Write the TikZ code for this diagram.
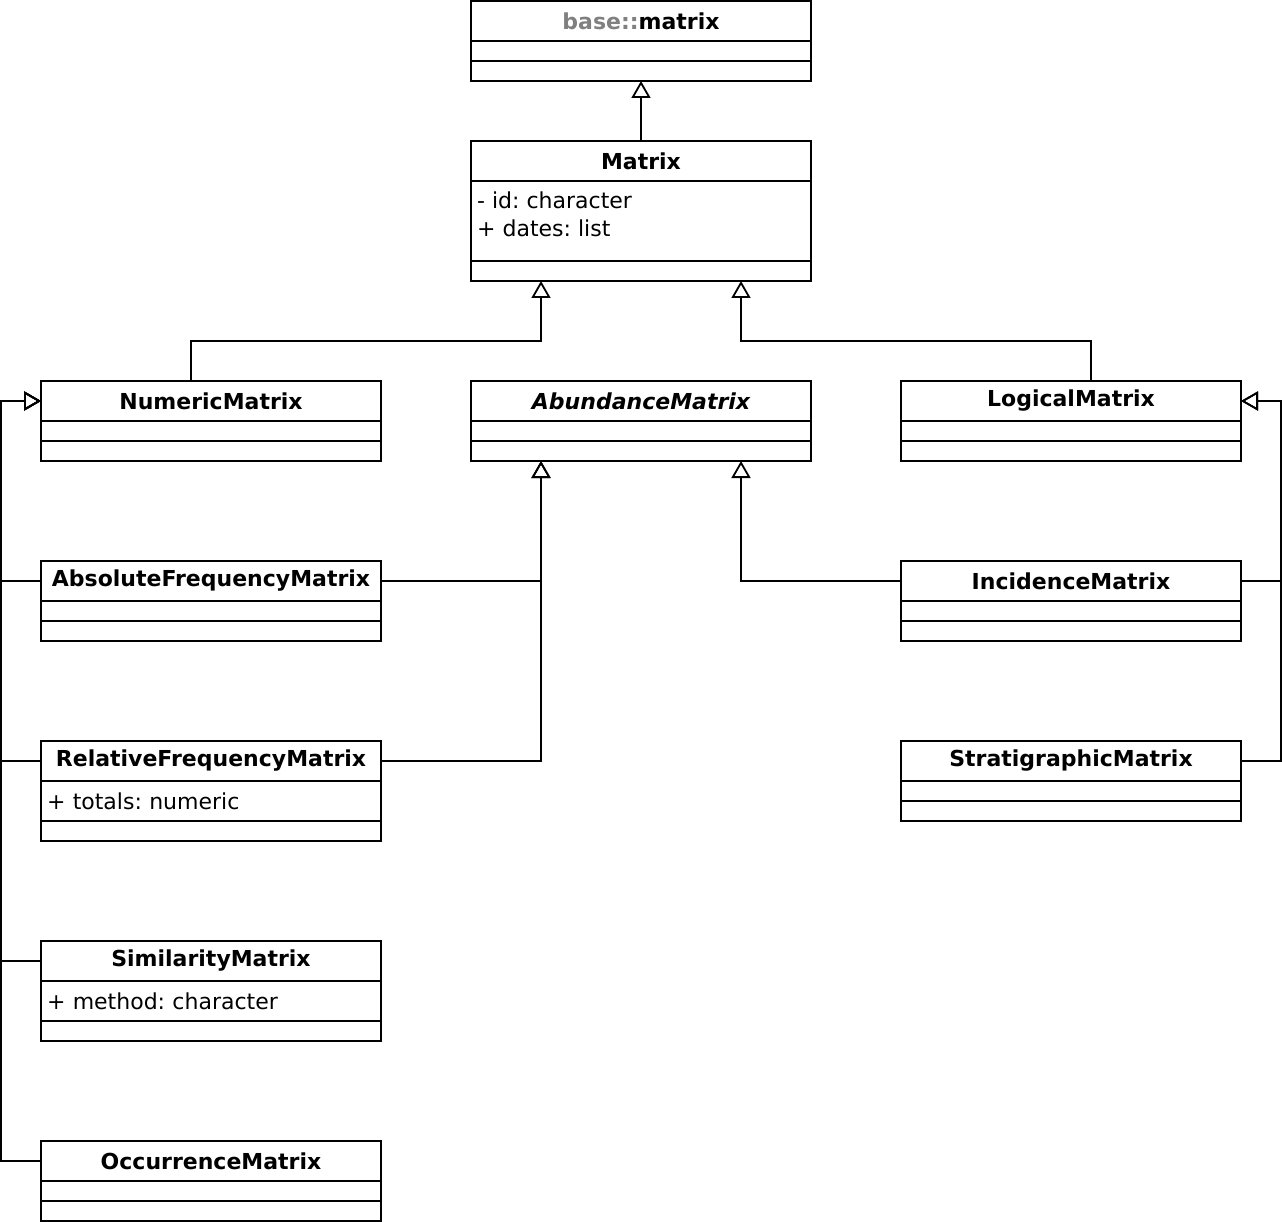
\documentclass[tikz,border=0pt]{standalone}
\usepackage{fontspec}
\setmainfont{DejaVu Sans}
\usetikzlibrary{positioning,calc,arrows.meta}

\definecolor{basegray}{HTML}{808080}
\frenchspacing

\tikzset{
	classhead/.style={draw, rectangle, line width=1.3pt, anchor=north west,
		minimum width=\boxw pt, minimum height=40pt, inner sep=0pt, outer sep=0pt,
		font=\fontsize{22}{28}\selectfont\bfseries},
	compart/.style={draw, rectangle, line width=1.3pt,
		minimum width=\boxw pt, minimum height=20pt, inner sep=0pt, outer sep=0pt},
	attrbox/.style={compart, minimum height=40pt, align=left,
		text width=\boxw pt - 12pt, inner xsep=6pt},
	inherit/.style={line width=1.8pt,
		-{Triangle[open, length=17pt, width=19pt, line width=1.8pt]}},
}

\begin{document}
\begin{tikzpicture}[x=1pt, y=-1pt, font=\fontsize{22}{28}\selectfont]

% parameters %{{{2

	\def\boxw{340}

	\useasboundingbox (0,0) rectangle (1282,1222);

% simple classes %{{{2

	\foreach \name/\title/\x/\y in {
		base/{\textcolor{basegray}{base::}matrix}/471/1,
		numeric/NumericMatrix/41/381,
		abundance/{\itshape AbundanceMatrix}/471/381,
		logical/LogicalMatrix/901/381,
		absolute/AbsoluteFrequencyMatrix/41/561,
		incidence/IncidenceMatrix/901/561,
		stratigraphic/StratigraphicMatrix/901/741,
		occurrence/OccurrenceMatrix/41/1141} {
		\node[classhead] (\name) at (\x,\y) {\title};
		\node[compart, below=0pt of \name] (\name-attr) {};
		\node[compart, below=0pt of \name-attr] (\name-ops) {};
	}

% classes with attributes %{{{2

	\node[classhead] (matrix) at (471,141) {Matrix};
	\node[compart, minimum height=80pt, below=0pt of matrix] (matrix-attr) {};
	\node[compart, below=0pt of matrix-attr] (matrix-ops) {};
	\node[align=left, inner sep=0pt, anchor=north west]
		at ($(matrix-attr.north west)+(6,11)$) {- id: character\\+ dates: list};

	\node[classhead] (relative) at (41,741) {RelativeFrequencyMatrix};
	\node[attrbox, below=0pt of relative] (relative-attr) {+ totals: numeric};
	\node[compart, below=0pt of relative-attr] (relative-ops) {};

	\node[classhead] (similarity) at (41,941) {SimilarityMatrix};
	\node[attrbox, below=0pt of similarity] (similarity-attr) {+ method: character};
	\node[compart, below=0pt of similarity-attr] (similarity-ops) {};

% arrow ends %{{{2

	\coordinate (numeric-up) at ($(numeric.north west)+(150,0)$);
	\coordinate (logical-up) at ($(logical.north west)+(190,0)$);
	\coordinate (matrix-in-l) at ($(matrix-ops.south west)+(70,0)$);
	\coordinate (matrix-in-r) at ($(matrix-ops.south west)+(270,0)$);
	\coordinate (abundance-in-l) at ($(abundance-ops.south west)+(70,0)$);
	\coordinate (abundance-in-r) at ($(abundance-ops.south west)+(270,0)$);

% generalizations %{{{2

	\draw[inherit] (matrix.north) -- (base-ops.south);

	\draw[inherit] (numeric-up) -- ++(0,-40) -| (matrix-in-l);
	\draw[inherit] (logical-up) -- ++(0,-40) -| (matrix-in-r);

	\draw[inherit] (absolute.east) -| (abundance-in-l);
	\draw[inherit] (relative.east) -| (abundance-in-l);
	\draw[inherit] (incidence.west) -| (abundance-in-r);

	\foreach \name in {absolute,relative,similarity,occurrence} {
		\draw[inherit] (\name.west) -- ++(-40,0) |- (numeric.west);
	}

	\foreach \name in {incidence,stratigraphic} {
		\draw[inherit] (\name.east) -- ++(40,0) |- (logical.east);
	}

% closing %{{{2

\end{tikzpicture}
\end{document}
